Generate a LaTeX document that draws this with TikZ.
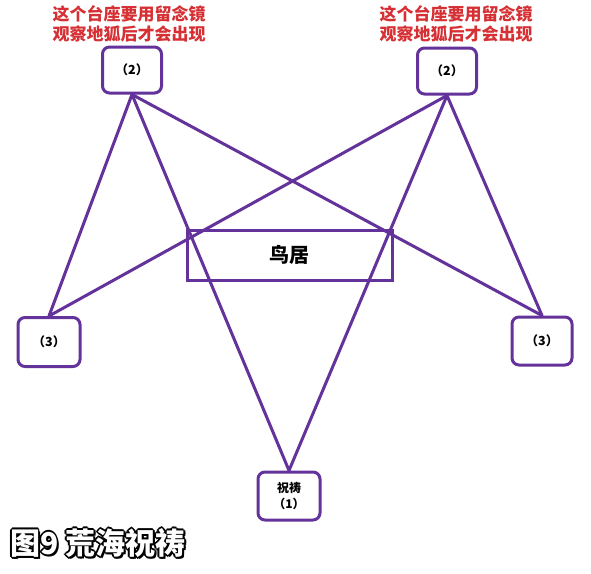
\documentclass[tikz,border=0pt]{standalone}
\usepackage{fontspec}
\setmainfont{Noto Sans CJK SC}
\usepackage{xcolor}
\usetikzlibrary{positioning,calc}
\definecolor{toriiviolet}{RGB}{100,50,155}
\definecolor{noteRed}{RGB}{214,48,52}

\begin{document}
\begin{tikzpicture}[x=1pt, y=-1pt, thick]
        \tikzset{
            altar/.style={draw=toriiviolet, fill=white, rectangle, line width=3pt, rounded corners=7pt, minimum width=59pt, minimum height=46pt, align=center, inner sep=0pt, font=\bfseries\fontsize{12.5}{15}\selectfont},
            torii/.style={draw=toriiviolet, rectangle, line width=3pt, minimum width=205pt, minimum height=50pt, inner sep=0pt, font=\bfseries\fontsize{20}{22}\selectfont},
            note/.style={text=noteRed, align=center, inner sep=0pt, font=\bfseries\fontsize{17}{19.5}\selectfont},
            caption/.style={anchor=west, inner sep=0pt, font=\bfseries\fontsize{30}{32}\selectfont},
            link/.style={draw=toriiviolet, line width=3pt, line cap=round}
        }
        \useasboundingbox[fill=white] (0,0) rectangle (591,573);

        % Torii in the middle
        \node [torii] (torii) at (289.5,255) {鸟居};

        % Pedestals
        \node [altar] (leftTwo) at (132,70) {（2）};
        \node [altar] (rightTwo) at (447,71) {（2）};
        \node [altar, minimum width=62pt, minimum height=49pt] (leftThree) at (49,342) {（3）};
        \node [altar, minimum width=60pt, minimum height=48pt] (rightThree) at (542,341) {（3）};
        \node [altar, minimum width=62pt, minimum height=48pt, font=\bfseries\fontsize{12}{16}\selectfont] (prayer) at (289,496) {祝祷\\（1）};

        % Notes above the upper pedestals
        \node [note] (leftNote) at (129,24) {这个台座要用留念镜\\观察地狐后才会出现};
        \node [note] (rightNote) at (456,24) {这个台座要用留念镜\\观察地狐后才会出现};

        % Connections from the left (2)
        \draw [link] (leftTwo.south) -- (leftThree.north);
        \draw [link] (leftTwo.south) -- (prayer.north);
        \draw [link] (leftTwo.south) -- (rightThree.north);

        % Connections from the right (2)
        \draw [link] (rightTwo.south) -- (rightThree.north);
        \draw [link] (rightTwo.south) -- (prayer.north);
        \draw [link] (rightTwo.south) -- (leftThree.north);

        % Caption with outline
        \foreach \dx/\dy [count=\i] in {-1.6/0, 1.6/0, 0/-1.6, 0/1.6, -1.2/-1.2, 1.2/1.2, -1.2/1.2, 1.2/-1.2, 2/2.2}
            \node [caption, text=black] (captionShade\i) at (10+\dx,543+\dy) {图9 荒海祝祷};
        \node [caption, text=white] (caption) at (10,543) {图9 荒海祝祷};
\end{tikzpicture}
\end{document}
